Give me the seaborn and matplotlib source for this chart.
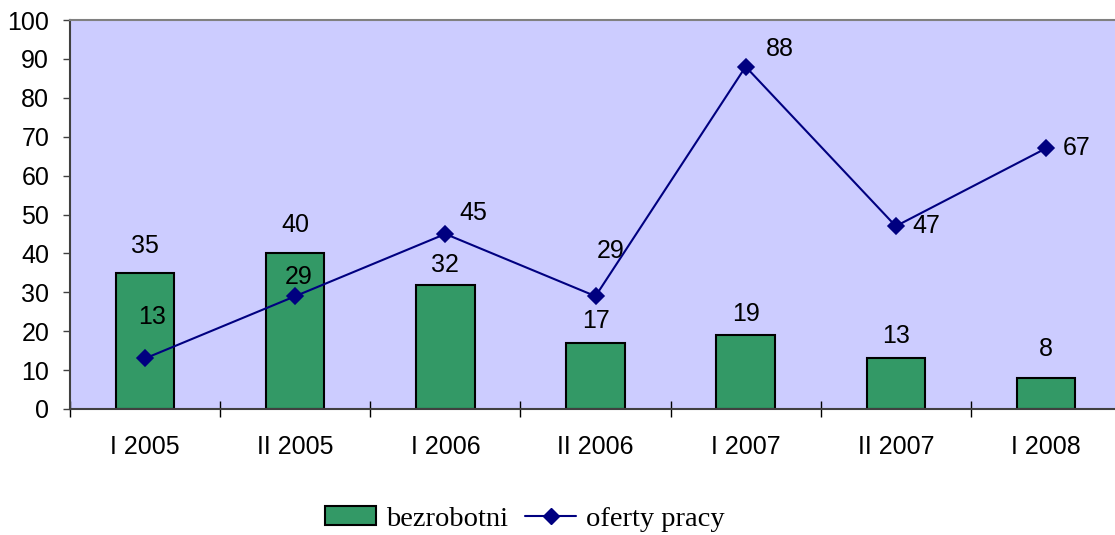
import matplotlib
matplotlib.use("Agg")
import matplotlib.pyplot as plt
import seaborn as sns
from matplotlib.patches import Patch
from matplotlib.lines import Line2D

# dane
okresy = ['I 2005', 'II 2005', 'I 2006', 'II 2006', 'I 2007', 'II 2007', 'I 2008']
bezrobotni = [35, 40, 32, 17, 19, 13, 8]
oferty = [13, 29, 45, 29, 88, 47, 67]

# przesuniecia etykiet (piksele)
bar_dy = [27, 28, 20, 22, 21, 22, 29]
line_off = [(7, 41), (3, 19), (28, 21), (15, 45), (34, 18), (31, 0), (31, 0)]

sns.set_style('white')
plt.rcParams['font.family'] = ['Liberation Sans', 'DejaVu Sans']
plt.rcParams['text.color'] = 'black'
plt.rcParams['xtick.color'] = 'black'
plt.rcParams['ytick.color'] = 'black'

fig = plt.figure(figsize=(11.15, 5.35), dpi=100)
ax = fig.add_axes([70 / 1115, 1 - 409 / 535, (1121 - 70) / 1115, (409 - 20) / 535])
ax.set_facecolor('#CCCCFF')

sns.barplot(x=okresy, y=bezrobotni, color='#339966', saturation=1,
            edgecolor='black', linewidth=1.5, width=0.39, ax=ax, zorder=2)
sns.pointplot(x=okresy, y=oferty, color='#000080', marker='D', markersize=8,
              linewidth=1.5, errorbar=None, ax=ax, zorder=3)

for i, v in enumerate(bezrobotni):
    ax.annotate(str(v), (i, v), xytext=(0, bar_dy[i]), textcoords='offset pixels',
                ha='center', va='center', fontsize=18, color='black')
for i, v in enumerate(oferty):
    dx, dy = line_off[i]
    ax.annotate(str(v), (i, v), xytext=(dx, dy), textcoords='offset pixels',
                ha='center', va='center', fontsize=18, color='black')

ax.set_xlim(-0.5, 6.5)
ax.set_ylim(0, 100)
ax.set_yticks(range(0, 101, 10))
ax.tick_params(axis='y', which='major', left=True, length=5, width=1,
               color='#404040', labelcolor='black', pad=10, labelsize=18)
ax.tick_params(axis='x', which='major', length=0, pad=19, labelsize=18,
               labelcolor='black')
ax.set_xticks([i - 0.5 for i in range(8)], minor=True)
ax.tick_params(axis='x', which='minor', bottom=True, direction='inout',
               length=11, width=1, color='black')
ax.set_xlabel('')
ax.set_ylabel('')

for s in ['left', 'bottom']:
    ax.spines[s].set_color('#404040')
    ax.spines[s].set_linewidth(1.5)
ax.spines['top'].set_color('#808080')
ax.spines['top'].set_linewidth(1.5)
ax.spines['right'].set_visible(False)

handles = [Patch(facecolor='#339966', edgecolor='black', linewidth=1.5),
           Line2D([], [], color='#000080', marker='D', markersize=8, linewidth=1.5)]
fig.legend(handles, ['bezrobotni', 'oferty pracy'], loc='center',
           bbox_to_anchor=(525 / 1115, 1 - 519 / 535), ncol=2, frameon=False,
           prop={'family': 'Liberation Serif', 'size': 20.5},
           handlelength=1.8, handleheight=0.6, handletextpad=0.35,
           columnspacing=0.6, labelcolor='black')

fig.savefig('out.png', dpi=100)
